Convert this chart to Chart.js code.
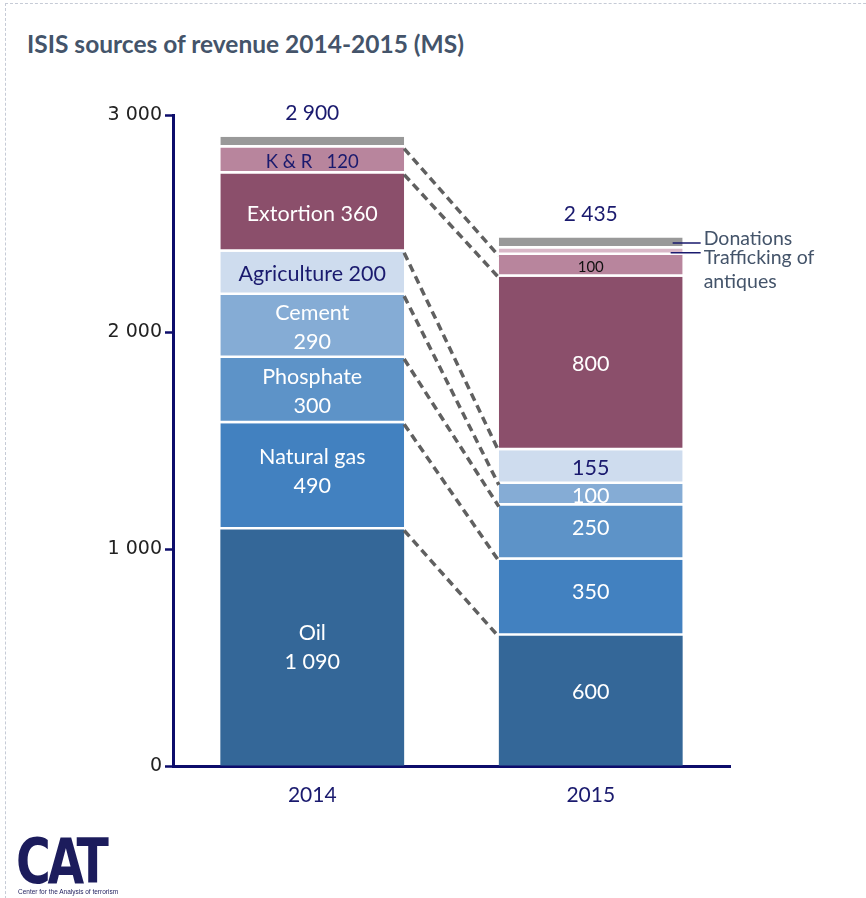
<!DOCTYPE html>
<html lang="en">
<head>
    <meta charset="UTF-8">
    <script src="https://cdn.jsdelivr.net/npm/chart.js"></script>
    <style>
        body, html {
            margin: 0;
            padding: 0;
            width: 866px;
            height: 898px;
            background: #fff;
            overflow: hidden;
        }
        #frame {
            position: absolute;
            left: 5px;
            top: 3px;
            width: 900px;
            height: 920px;
            border-top: 1px dashed #c6cbd6;
            border-left: 1px dashed #c6cbd6;
        }
        #title {
            position: absolute;
            left: 27px;
            top: 29px;
            font: bold 24.5px Lato, sans-serif;
            color: #44546a;
        }
        #chart {
            position: absolute;
            left: 0;
            top: 0;
        }
        #logo {
            position: absolute;
            left: 16px;
            top: 832px;
            color: #1c1c5c;
        }
        #logo .big {
            font: bold 62px "DejaVu Sans Condensed", sans-serif;
            letter-spacing: -4px;
            line-height: 60px;
            transform: scaleX(0.85);
            transform-origin: left;
        }
        #logo .small {
            font: 6.5px "Liberation Sans", sans-serif;
            margin-top: -4px;
            margin-left: 2px;
        }
    </style>
</head>
<body>
    <div id="frame"></div>
    <div id="title">ISIS sources of revenue 2014-2015 (MS)</div>
    <canvas id="chart" width="866" height="898"></canvas>
    <div id="logo"><div class="big">CAT</div><div class="small">Center for the Analysis of terrorism</div></div>

    <script>
        // data, million $
        const years = ['2014', '2015'];
        const oil = [1090, 600];
        const naturalGas = [490, 350];
        const phosphate = [300, 250];
        const cement = [290, 100];
        const agriculture = [200, 155];
        const extortion = [360, 800];
        const kidnapRansom = [120, 100];
        const antiques = [0, 30];
        const donations = [50, 50];
        const yTicks = [0, 1000, 2000, 3000];

        const navy = '#1a1a6e';
        const fmt = v => String(v).replace(/\B(?=(\d{3})+(?!\d))/g, ' ');

        // name shown in 2014 box: 'two' = name over value, 'one' = same line
        const series = [
            { name: 'Oil', data: oil, color: '#346798', mode: 'two', text: '#fff', lift: [0, 10] },
            { name: 'Natural gas', data: naturalGas, color: '#4281c0', mode: 'two', text: '#fff', lift: [5, 7] },
            { name: 'Phosphate', data: phosphate, color: '#5d93c8', mode: 'two', text: '#fff', lift: [0, 6] },
            { name: 'Cement', data: cement, color: '#85acd5', mode: 'two', text: '#fff', lift: [0, 0] },
            { name: 'Agriculture', data: agriculture, color: '#cedcee', mode: 'one', text: navy, lift: [0, 0] },
            { name: 'Extortion', data: extortion, color: '#8b4f6b', mode: 'one', text: '#fff', lift: [0, 0] },
            { name: 'K & R', data: kidnapRansom, color: '#b8859d', mode: 'kr', text: navy, lift: [0, 0] },
            { name: 'Trafficking of antiques', data: antiques, color: '#d9b8c8', mode: 'none' },
            { name: 'Donations', data: donations, color: '#999999', mode: 'none' }
        ];

        const overlay = {
            id: 'overlay',
            afterDatasetsDraw(chart) {
                const ctx = chart.ctx;
                const meta = i => chart.getDatasetMeta(i);
                ctx.save();

                // dashed connectors between the tops of matching segments
                ctx.setLineDash([8, 5]);
                ctx.lineWidth = 3.5;
                ctx.strokeStyle = '#606060';
                for (let k = 0; k < 7; k++) {
                    const a = meta(k).data[0], b = meta(k).data[1];
                    ctx.beginPath();
                    ctx.moveTo(a.x + a.width / 2, a.y + 1);
                    ctx.lineTo(b.x - b.width / 2, b.y + 1);
                    ctx.stroke();
                }
                ctx.setLineDash([]);

                // labels inside boxes
                ctx.textAlign = 'center';
                ctx.textBaseline = 'middle';
                series.forEach((s, k) => {
                    if (s.mode === 'none') return;
                    meta(k).data.forEach((el, i) => {
                        const cy = (el.y + el.base) / 2 - s.lift[i];
                        const v = fmt(s.data[i]);
                        ctx.fillStyle = s.text;
                        ctx.font = '21.5px Lato, sans-serif';
                        if (i === 1) {
                            if (s.mode === 'kr') {
                                ctx.fillStyle = '#111';
                                ctx.font = '15px Lato, sans-serif';
                            }
                            ctx.fillText(v, el.x, cy + 1);
                        } else if (s.mode === 'two') {
                            ctx.fillText(s.name, el.x, cy - 14);
                            ctx.fillText(v, el.x, cy + 15);
                        } else if (s.mode === 'one') {
                            ctx.fillText(s.name + ' ' + v, el.x, cy + 1);
                        } else {
                            ctx.font = '18.5px Lato, sans-serif';
                            ctx.fillText(s.name + '   ' + v, el.x, cy + 1);
                        }
                    });
                });

                // totals above bars
                const y = chart.scales.y;
                ctx.fillStyle = navy;
                ctx.font = '21px Lato, sans-serif';
                years.forEach((yr, i) => {
                    const total = series.reduce((t, s) => t + s.data[i], 0);
                    const el = meta(0).data[i];
                    ctx.fillText(fmt(total), el.x, y.getPixelForValue(total) - 23);
                });

                // callouts for the two thin 2015 segments
                ctx.strokeStyle = navy;
                ctx.lineWidth = 1.5;
                ctx.fillStyle = '#44546a';
                ctx.font = '19.5px Lato, sans-serif';
                ctx.textAlign = 'left';
                const don = meta(8).data[1], ant = meta(7).data[1];
                const right = don.x + don.width / 2;
                const yd = (don.y + don.base) / 2, ya = (ant.y + ant.base) / 2 + 1;
                ctx.beginPath();
                ctx.moveTo(right - 10, yd); ctx.lineTo(right + 18, yd);
                ctx.moveTo(right - 12, ya); ctx.lineTo(right + 18, ya);
                ctx.stroke();
                ctx.fillText('Donations', right + 21, yd - 4);
                ctx.fillText('Trafficking of', right + 21, ya + 5);
                ctx.fillText('antiques', right + 21, ya + 29);
                ctx.restore();
            }
        };

        new Chart(document.getElementById('chart'), {
            type: 'bar',
            data: {
                labels: years,
                datasets: series.map((s, k) => ({
                    label: s.name,
                    data: s.data,
                    backgroundColor: s.color,
                    borderColor: '#fff',
                    borderWidth: { top: 0, left: 0, right: 0, bottom: k === 0 ? 0 : 2.5 },
                    borderSkipped: false,
                    categoryPercentage: 1,
                    barPercentage: 0.66
                }))
            },
            options: {
                responsive: false,
                animation: false,
                layout: { padding: { top: 115, right: 136, left: 0, bottom: 0 } },
                plugins: { legend: { display: false }, tooltip: { enabled: false } },
                scales: {
                    x: {
                        stacked: true,
                        grid: { display: false },
                        border: { color: '#0d0d6b', width: 3 },
                        ticks: { color: navy, font: { family: 'Lato', size: 21 }, padding: 9 },
                        afterFit: s => { s.height = 132; }
                    },
                    y: {
                        stacked: true,
                        min: 0,
                        max: 3000,
                        afterBuildTicks: s => { s.ticks = yTicks.map(v => ({ value: v })); },
                        ticks: { callback: v => fmt(v), color: '#222', font: { family: 'DejaVu Sans', size: 19 }, padding: 3 },
                        grid: { drawOnChartArea: false, tickLength: 8, tickColor: '#0d0d6b', tickWidth: 2.5 },
                        border: { color: '#0d0d6b', width: 3 },
                        afterFit: s => { s.width = 173; }
                    }
                }
            },
            plugins: [overlay]
        });
    </script>
</body>
</html>
